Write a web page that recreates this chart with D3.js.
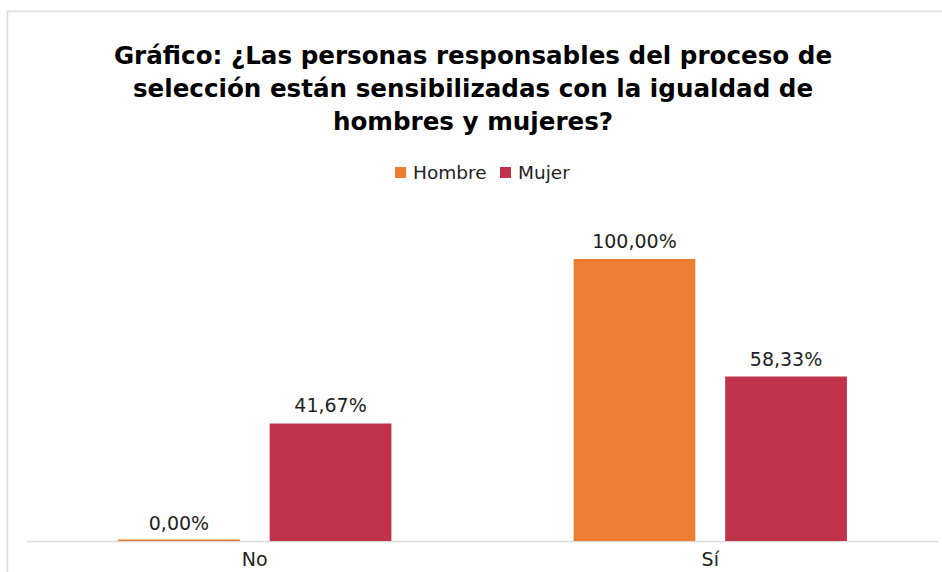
<!DOCTYPE html>
<html>
<head>
<meta charset="utf-8">
<script src="https://cdn.jsdelivr.net/npm/d3@7"></script>
<style>
  body { margin: 0; background: #fff; }
  svg { display: block; font-family: "DejaVu Sans", sans-serif; }
</style>
</head>
<body>
<svg id="chart" width="942" height="572"></svg>
<script>
// Chart data
const titleLines = [
  'Gráfico: ¿Las personas responsables del proceso de',
  'selección están sensibilizadas con la igualdad de',
  'hombres y mujeres?'
];
const categories = ['No', 'Sí'];
const seriesNames = ['Hombre', 'Mujer'];
const hombreValues = [0, 100];
const mujerValues = [41.67, 58.33];
const seriesColors = ['#ED7D31', '#C0334B'];

const fmt = v => v.toFixed(2).replace('.', ',') + '%';

const svg = d3.select('#chart');

// Chart border (runs off the right and bottom edge)
svg.append('rect')
  .attr('x', 7.5).attr('y', 11.5)
  .attr('width', 960).attr('height', 600)
  .attr('fill', 'none')
  .attr('stroke', '#d9d9d9')
  .attr('stroke-width', 1.5);

// Title
svg.append('g').selectAll('text')
  .data(titleLines)
  .enter()
  .append('text')
  .attr('x', 473)
  .attr('y', (d, i) => 64 + i * 33)
  .attr('text-anchor', 'middle')
  .attr('font-size', '24.6px')
  .attr('font-weight', 'bold')
  .attr('fill', '#000')
  .text(d => d);

// Legend
const legend = svg.append('g').attr('transform', 'translate(395, 167)');
const legendOffsets = [0, 105];
seriesNames.forEach((name, i) => {
  const item = legend.append('g').attr('transform', `translate(${legendOffsets[i]}, 0)`);
  item.append('rect').attr('width', 11).attr('height', 11).attr('fill', seriesColors[i]);
  item.append('text')
    .attr('x', 18).attr('y', 12)
    .attr('font-size', '18.5px')
    .attr('fill', '#1f1f1f')
    .text(name);
});

// Scales
const baseline = 541;
const x0 = d3.scaleBand().domain(categories).range([27, 938]).padding(0);
const x1 = d3.scaleBand()
  .domain(seriesNames)
  .range([x0.bandwidth() * 0.2, x0.bandwidth() * 0.8])
  .paddingInner(0.197);
const y = d3.scaleLinear().domain([0, 100]).range([baseline, 259]);

// Category axis line
svg.append('line')
  .attr('x1', 27).attr('x2', 938)
  .attr('y1', baseline + 0.5).attr('y2', baseline + 0.5)
  .attr('stroke', '#d9d9d9')
  .attr('stroke-width', 1.5);

const rows = categories.map((c, i) => ({
  cat: c,
  values: [
    { s: 'Hombre', v: hombreValues[i], color: seriesColors[0] },
    { s: 'Mujer', v: mujerValues[i], color: seriesColors[1] }
  ]
}));

const groups = svg.append('g').selectAll('g')
  .data(rows)
  .enter()
  .append('g')
  .attr('transform', d => `translate(${x0(d.cat)}, 0)`);

// Bars (zero values still show as a thin line)
groups.selectAll('rect')
  .data(d => d.values)
  .enter()
  .append('rect')
  .attr('x', d => x1(d.s))
  .attr('width', x1.bandwidth())
  .attr('y', d => Math.min(y(d.v), baseline - 1.5))
  .attr('height', d => Math.max(baseline - y(d.v), 1.5))
  .attr('fill', d => d.color);

// Value labels
groups.selectAll('text.value')
  .data(d => d.values)
  .enter()
  .append('text')
  .attr('class', 'value')
  .attr('x', d => x1(d.s) + x1.bandwidth() / 2)
  .attr('y', d => y(d.v) - 11)
  .attr('text-anchor', 'middle')
  .attr('font-size', '19px')
  .attr('fill', '#1f1f1f')
  .text(d => fmt(d.v));

// Category labels
svg.append('g').selectAll('text')
  .data(categories)
  .enter()
  .append('text')
  .attr('x', d => x0(d) + x0.bandwidth() / 2)
  .attr('y', 566)
  .attr('text-anchor', 'middle')
  .attr('font-size', '19px')
  .attr('fill', '#1f1f1f')
  .text(d => d);
</script>
</body>
</html>
